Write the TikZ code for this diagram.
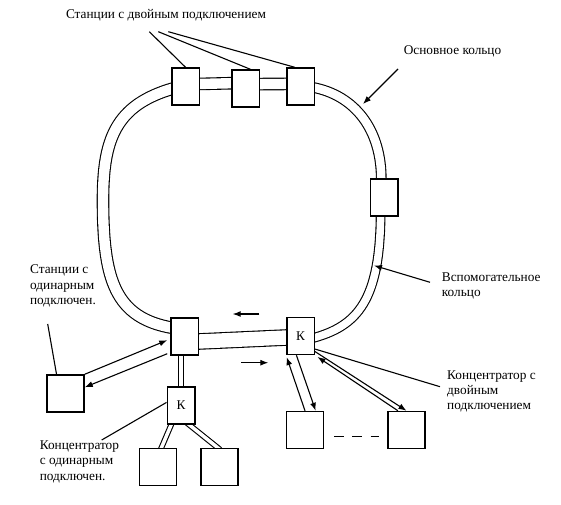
\documentclass[tikz,border=0pt]{standalone}
\usepackage{fontspec}
\setmainfont{Liberation Serif}
\usetikzlibrary{arrows.meta,backgrounds}

\begin{document}
\begin{tikzpicture}[x=1bp, y=-1bp,
      station/.style={rectangle, draw=black, fill=white, line width=1.5bp, inner sep=0pt, minimum width=27.5bp, minimum height=37bp, font=\fontsize{13.3bp}{15bp}\selectfont},
      endstation/.style={station, minimum width=37bp},
      txt/.style={anchor=west, align=left, inner sep=0pt, font=\fontsize{13.3bp}{15.3bp}\selectfont},
      linie/.style={line width=1.1bp},
      ring/.style={draw=black, line width=1.1bp, double=white, double distance=10.4bp, shorten <=-3bp, shorten >=-3bp},
      pfeil/.style={linie, -{Latex[length=8bp,width=6bp]}}]

\useasboundingbox (0,0) rectangle (561,505);

% stations on the ring
\node[station] (s1) at (185.5,86.5) {};
\node[station] (s2) at (245.5,88.5) {};
\node[station] (s3) at (300.5,86.5) {};
\node[station] (s4) at (384,197.5) {};
\node[station] (s5) at (184.5,336.5) {};
\node[station] (k1) at (300.5,336) {К};
\node[station] (k2) at (181,405.5) {К};
% stations with single connection
\node[endstation] (e1) at (65.5,393.5) {};
\node[endstation] (e2) at (158,467) {};
\node[endstation] (e3) at (219.5,467) {};
\node[endstation] (e4) at (305,430) {};
\node[endstation] (e5) at (406.5,430) {};

% labels
\node[txt] (title) at (65.8,15) {Станции с двойным подключением};
\node[txt] (main) at (403.6,51) {Основное кольцо};
\node[txt] (aux) at (441.7,285.8) {Вспомогательное\\кольцо};
\node[txt] (single) at (29.9,286) {Станции с\\одинарным\\подключен.};
\node[txt] (conc1) at (39.6,461.7) {Концентратор\\с одинарным\\подключен.};
\node[txt] (conc2) at (447,391.5) {Концентратор с\\двойным\\подключением};

\coordinate (t1) at (149.3,31.7);
\coordinate (t2) at (158.3,31.7);
\coordinate (t3) at (168.3,31.7);
\coordinate (m0) at (398,69);
\coordinate (m1) at (363,104);
\coordinate (a0) at (430,282.3);
\coordinate (a1) at (374,265.5);
\coordinate (l1) at (47.7,324);
\coordinate (l2) at (101.7,440);
\coordinate (l3) at (440,386.7);
\coordinate (r1) at (259.3,314);
\coordinate (r2) at (232.7,314);
\coordinate (r3) at (241,362.7);
\coordinate (r4) at (268.3,362.7);

% double ring
\begin{scope}[on background layer]
\draw[ring] (s1.190) .. controls (115,105) and (103,140) .. (103,200) .. controls (103,280) and (115,318) .. (s5.148);
\draw[ring] (s1.10) -- (s2.160);
\draw[ring] (s2.17) -- (s3.170);
\draw[ring, double distance=8.5bp] (s3.355) .. controls (355,95) and (382,130) .. (s4.98);
\draw[ring, double distance=7.5bp] (s4.260) .. controls (380,300) and (358,326) .. (k1.354);
\draw[ring, double distance=14.4bp] (s5.341) -- (k1.186);
\draw[ring, double distance=4.6bp] (k2.north |- s5.south) -- (k2.north);
\draw[ring, double distance=3.5bp] (k2.243) -- (e2.80);
\draw[ring, double distance=3.5bp] (k2.293) -- (e3.95);
\end{scope}

% arrows
\draw[pfeil, shorten >=3bp] (e1.north east) -- (s5.190);
\draw[pfeil, shorten <=3bp] (s5.228) -- (e1.18);
\draw[pfeil, shorten >=2bp] (e4.north) -- (k1.south west);
\draw[pfeil] (k1.258) -- (e4.61);
\draw[pfeil, shorten >=3bp] (e5.114) -- (k1.south east);
\draw[pfeil] (k1.313) -- (e5.north);
\draw[pfeil] (r1) -- (r2);
\draw[pfeil] (r3) -- (r4);
\draw[pfeil] (m0) -- (m1);
\draw[pfeil] (a0) -- (a1);

% leaders
\draw[linie] (t1) -- (s1.north);
\draw[linie] (t2) -- (s2.76);
\draw[linie] (t3) -- (s3.107);
\draw[linie] (l1) -- (e1.115);
\draw[linie] (k2.168) -- (l2);
\draw[linie] (k1.318) -- (l3);
\draw[linie, dash pattern=on 10bp off 8.3bp, shorten <=9.8bp, shorten >=8bp] ([yshift=-6.7bp]e4.east) -- ([yshift=-6.7bp]e5.west);

\end{tikzpicture}
\end{document}
